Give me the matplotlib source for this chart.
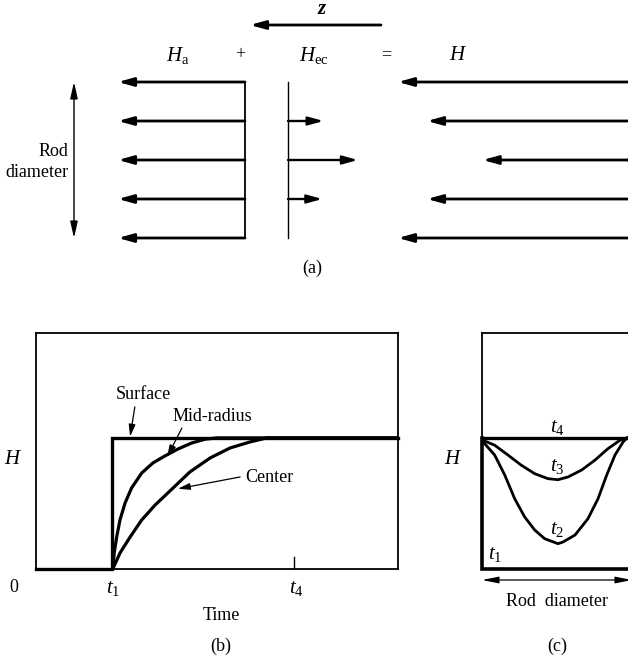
import numpy as np
import matplotlib.pyplot as plt

plt.rcParams['font.family'] = ['Liberation Serif', 'DejaVu Serif']
plt.rcParams['mathtext.fontset'] = 'custom'
plt.rcParams['mathtext.rm'] = 'Liberation Serif'
plt.rcParams['mathtext.it'] = 'Liberation Serif:italic'

# (a) field vectors across the rod, rows from top to bottom
rows = [2, 1, 0, -1, -2]
ha = [1.0, 1.0, 1.0, 1.0, 1.0]
hec = [0.0, 0.28, 0.55, 0.27, 0.0]
h_net = [1.0, 0.88, 0.65, 0.88, 1.0]

# (b) H vs time at surface / mid-radius / center
t1 = 2.1
t4 = 7.13
surf_t = [0.0, t1, t1, 10.0]
surf_h = [0.0, 0.0, 1.0, 1.0]
mid_t = [2.12, 2.16, 2.23, 2.32, 2.46, 2.64, 2.92, 3.23, 3.56, 3.92, 4.30,
         4.67, 5.0, 10.0]
mid_h = [0.0, 0.122, 0.246, 0.374, 0.503, 0.618, 0.732, 0.809, 0.862, 0.915,
         0.961, 0.99, 1.0, 1.0]
cen_t = [2.12, 2.32, 2.60, 2.92, 3.29, 3.73, 4.25, 4.81, 5.36, 5.91, 6.38, 10.0]
cen_h = [0.0, 0.122, 0.244, 0.374, 0.488, 0.603, 0.740, 0.847, 0.923, 0.969,
         1.0, 1.0]

# (c) H across the rod diameter at successive times
r3 = [-1.0, -0.964, -0.831, -0.653, -0.48, -0.297, -0.12, 0.013, 0.147, 0.329,
      0.507, 0.68, 0.84, 0.933]
h_t3 = [1.0, 0.976, 0.944, 0.869, 0.793, 0.727, 0.689, 0.681, 0.702, 0.755,
        0.831, 0.918, 0.982, 1.0]
r2 = [-1.0, -0.964, -0.831, -0.697, -0.564, -0.431, -0.297, -0.164, 0.013,
      0.08, 0.24, 0.413, 0.547, 0.663, 0.773, 0.88, 0.933]
h_t2 = [1.0, 0.956, 0.869, 0.717, 0.536, 0.397, 0.297, 0.231, 0.193, 0.206,
        0.259, 0.384, 0.536, 0.717, 0.869, 0.968, 1.0]

W, H = 628, 663
fig = plt.figure(figsize=(W / 100, H / 100), dpi=100)

def fx(x):
    return x / W

def fy(y):
    return 1 - y / H

fs = 13
big = 15

def arrow(ax, tail, head, lw=2.0, ms=10, style='-|>,head_length=0.9,head_width=0.25'):
    ax.annotate('', xy=head, xytext=tail,
                arrowprops=dict(arrowstyle=style, lw=lw, color='black',
                                shrinkA=0, shrinkB=0, mutation_scale=ms),
                annotation_clip=False)

# ---------- (a) ----------
ax_a = fig.add_axes([0, fy(290), 1, 290 / H])
ax_a.set_xlim(0, W)
ax_a.set_ylim(-130 / 39, 160 / 39)
ax_a.axis('off')

ha_x, hec_x, h_tail = 245, 288, 640
ha_scale, h_scale = 127, 242
for row, a, e, n in zip(rows, ha, hec, h_net):
    arrow(ax_a, (ha_x, row), (ha_x - ha_scale * a, row))
    if e > 0:
        arrow(ax_a, (hec_x, row), (hec_x + ha_scale * e, row), lw=1.7)
    arrow(ax_a, (h_tail, row), (h_tail - h_scale * n, row))
ax_a.plot([ha_x, ha_x], [rows[0], rows[-1]], color='black', lw=1.3)
ax_a.plot([hec_x, hec_x], [rows[0], rows[-1]], color='black', lw=1.0)

arrow(ax_a, (74, rows[-1]), (74, rows[0]), lw=1.0, ms=9,
      style='<|-|>,head_length=1.1,head_width=0.25')
ax_a.text(68, -0.05, 'Rod\ndiameter', ha='right', va='center', fontsize=fs,
          multialignment='right', linespacing=1.25)

zy = 135 / 39
arrow(ax_a, (381, zy), (250, zy), lw=2.0)
ax_a.text(322, zy + 0.15, 'z', ha='center', va='bottom', fontsize=big,
          fontstyle='italic', fontweight='bold')

ly = 105 / 39
ax_a.text(178, ly, r'$H_{\mathrm{a}}$', ha='center', va='center', fontsize=big)
ax_a.text(240, ly, '+', ha='center', va='center', fontsize=fs)
ax_a.text(314, ly, r'$H_{\mathrm{ec}}$', ha='center', va='center', fontsize=big)
ax_a.text(386, ly, '=', ha='center', va='center', fontsize=fs)
ax_a.text(458, ly, r'$H$', ha='center', va='center', fontsize=big)
ax_a.text(312, (160 - 268) / 39, '(a)', ha='center', va='center', fontsize=fs)

# ---------- (b) ----------
ax_b = fig.add_axes([fx(36), fy(569), (398 - 36) / W, (569 - 333) / H])
ax_b.set_xlim(0, 10)
ax_b.set_ylim(0, 1.8)
ax_b.set_xticks([])
ax_b.set_yticks([])
for s in ax_b.spines.values():
    s.set_linewidth(1.3)
ax_b.plot(surf_t, surf_h, color='black', lw=2.4, clip_on=False, solid_joinstyle='miter')
ax_b.plot(mid_t, mid_h, color='black', lw=2.3)
ax_b.plot(cen_t, cen_h, color='black', lw=2.3)
ax_b.plot([t4, t4], [0, 0.09], color='black', lw=1.0)

ax_b.text(2.96, 1.33, 'Surface', ha='center', va='center', fontsize=fs)
ax_b.text(4.86, 1.16, 'Mid-radius', ha='center', va='center', fontsize=fs)
ax_b.text(6.46, 0.70, 'Center', ha='center', va='center', fontsize=fs)
arrow(ax_b, (2.73, 1.236), (2.60, 1.01), lw=0.9, ms=8)
arrow(ax_b, (4.03, 1.075), (3.62, 0.854), lw=0.9, ms=8)
arrow(ax_b, (5.64, 0.702), (3.92, 0.612), lw=0.9, ms=8)

fig.text(fx(13), fy(460), r'$H$', ha='center', va='center', fontsize=big)
fig.text(fx(14), fy(587), '0', ha='center', va='center', fontsize=fs)
fig.text(fx(113), fy(589), r'$t_1$', ha='center', va='center', fontsize=big)
fig.text(fx(296), fy(589), r'$t_4$', ha='center', va='center', fontsize=big)
fig.text(fx(221), fy(615), 'Time', ha='center', va='center', fontsize=fs)
fig.text(fx(221), fy(646), '(b)', ha='center', va='center', fontsize=fs)

# ---------- (c) ----------
ax_c = fig.add_axes([fx(482), fy(569), 180 / W, (569 - 333) / H])
ax_c.set_xlim(-1.0, 1.4)
ax_c.set_ylim(0, 1.8)
ax_c.set_xticks([])
ax_c.set_yticks([])
for s in ax_c.spines.values():
    s.set_linewidth(1.3)
ax_c.plot([-1.0, 1.4], [1.0, 1.0], color='black', lw=2.4)
ax_c.plot([-1.0, -1.0, 1.4], [1.0, 0.0, 0.0], color='black', lw=2.6,
          clip_on=False, solid_joinstyle='miter')
ax_c.plot(r3, h_t3, color='black', lw=2.0)
ax_c.plot(r2, h_t2, color='black', lw=2.0)

ax_c.text(0.0, 1.08, r'$t_4$', ha='center', va='center', fontsize=big)
ax_c.text(0.0, 0.78, r'$t_3$', ha='center', va='center', fontsize=big)
ax_c.text(0.0, 0.30, r'$t_2$', ha='center', va='center', fontsize=big)
ax_c.text(-0.83, 0.11, r'$t_1$', ha='center', va='center', fontsize=big)
arrow(ax_c, (1.0, -0.084), (-1.0, -0.084), lw=0.9, ms=9,
      style='<|-|>,head_length=1.1,head_width=0.22')

fig.text(fx(453), fy(460), r'$H$', ha='center', va='center', fontsize=big)
fig.text(fx(557), fy(602), 'Rod  diameter', ha='center', va='center', fontsize=fs)
fig.text(fx(557), fy(646), '(c)', ha='center', va='center', fontsize=fs)

fig.savefig('out.png', dpi=100)
